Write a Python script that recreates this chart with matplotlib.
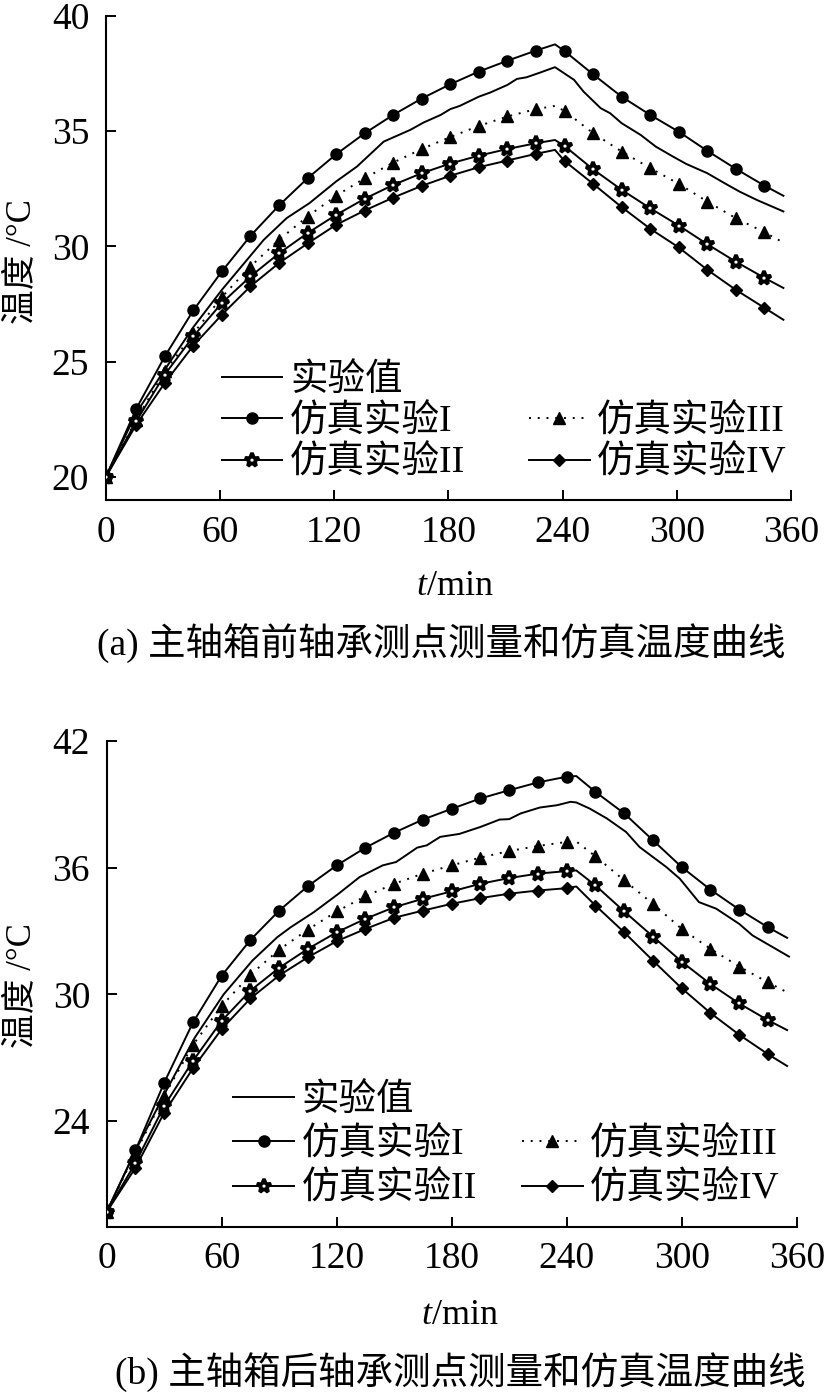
import matplotlib
matplotlib.use('Agg')
import matplotlib.pyplot as plt
from matplotlib.lines import Line2D

plt.rcParams['font.family'] = ['Liberation Serif', 'Noto Sans CJK SC', 'DejaVu Sans']
plt.rcParams['mathtext.fontset'] = 'custom'
plt.rcParams['mathtext.it'] = 'Liberation Serif:italic'
plt.rcParams['mathtext.rm'] = 'Liberation Serif'

# ---------------- data: (a) front bearing ----------------
t_exp_a = [0, 16, 31, 46, 61, 76, 83, 95, 107, 121, 132, 146, 160, 167, 176, 181, 186,
           196, 202, 211, 216, 221, 228, 236, 246, 251, 260, 265, 271, 281, 289, 298,
           305, 316, 325, 333, 342, 356]
v_exp_a = [20.0, 22.78, 24.66, 26.5, 28.12, 29.6, 30.29, 31.23, 31.88, 32.82, 33.47, 34.55,
           35.06, 35.38, 35.71, 35.96, 36.1, 36.5, 36.68, 37.01, 37.27, 37.34, 37.54, 37.78,
           37.23, 36.72, 36.0, 35.78, 35.35, 34.84, 34.33, 33.9, 33.58, 33.18, 32.75, 32.38,
           32.02, 31.52]

t_sim_a = [0, 16, 31, 46, 61, 76, 91, 106, 121, 136, 151, 166, 181, 196, 211, 226, 236,
           241, 256, 271, 286, 301, 316, 331, 346, 356]
sim1_a = [20.0, 22.96, 25.23, 27.23, 28.92, 30.46, 31.78, 32.96, 34.0, 34.91, 35.71, 36.42,
          37.04, 37.59, 38.06, 38.5, 38.77, 38.48, 37.47, 36.5, 35.71, 34.98, 34.15, 33.37,
          32.64, 32.2]
sim2_a = [20.0, 22.42, 24.44, 26.1, 27.55, 28.7, 29.7, 30.58, 31.37, 32.07, 32.67, 33.18,
          33.6, 33.94, 34.23, 34.48, 34.62, 34.36, 33.35, 32.46, 31.66, 30.91, 30.1, 29.34,
          28.64, 28.2]
sim3_a = [20.0, 22.49, 24.58, 26.22, 27.81, 29.13, 30.29, 31.3, 32.2, 32.96, 33.64, 34.23,
          34.75, 35.23, 35.64, 35.96, 36.1, 35.88, 34.92, 34.12, 33.4, 32.72, 31.95, 31.23,
          30.62, 30.17]
sim4_a = [20.0, 22.27, 24.08, 25.7, 27.04, 28.27, 29.28, 30.13, 30.94, 31.56, 32.12, 32.63,
          33.07, 33.44, 33.73, 34.02, 34.19, 33.71, 32.72, 31.71, 30.77, 29.96, 28.99, 28.12,
          27.34, 26.82]
marks_a = [i for i in range(len(t_sim_a)) if t_sim_a[i] not in (236, 356)]

# ---------------- data: (b) rear bearing ----------------
t_exp_b = [0, 15, 31, 46, 61, 76, 89, 96, 108, 121, 132, 144, 151, 162, 167, 174, 184,
           195, 205, 210, 216, 226, 235, 242, 245, 252, 261, 271, 278, 292, 299, 309, 318,
           330, 337, 356]
v_exp_b = [19.7, 22.6, 25.43, 27.96, 30.0, 31.6, 32.71, 33.18, 33.89, 34.77, 35.56, 36.11,
           36.27, 36.95, 37.06, 37.46, 37.6, 37.93, 38.28, 38.3, 38.57, 38.85, 38.96, 39.12,
           39.09, 38.8, 38.33, 37.69, 36.98, 36.03, 35.48, 34.37, 34.06, 33.34, 32.79, 31.79]

t_sim_b = [0, 15, 30, 45, 60, 75, 90, 105, 120, 135, 150, 165, 180, 195, 210, 225, 240,
           245, 255, 270, 285, 300, 315, 330, 345, 355]
sim1_b = [19.7, 22.61, 25.82, 28.67, 30.89, 32.58, 33.97, 35.13, 36.11, 36.95, 37.66, 38.28,
          38.79, 39.28, 39.67, 40.04, 40.31, 40.34, 39.59, 38.57, 37.3, 36.03, 34.96, 34.02,
          33.18, 32.68]
sim2_b = [19.7, 22.02, 24.72, 26.85, 28.75, 30.18, 31.26, 32.16, 32.94, 33.58, 34.13, 34.53,
          34.88, 35.24, 35.51, 35.72, 35.84, 35.87, 35.16, 33.93, 32.74, 31.55, 30.49, 29.57,
          28.78, 28.31]
sim3_b = [19.7, 22.5, 25.19, 27.61, 29.46, 30.93, 32.12, 33.07, 33.93, 34.65, 35.24, 35.72,
          36.11, 36.48, 36.79, 37.03, 37.22, 37.24, 36.54, 35.4, 34.29, 33.1, 32.16, 31.32,
          30.57, 30.1]
sim4_b = [19.7, 21.79, 24.4, 26.5, 28.36, 29.81, 30.9, 31.76, 32.52, 33.1, 33.63, 33.97,
          34.29, 34.56, 34.77, 34.92, 35.03, 35.11, 34.21, 32.94, 31.6, 30.29, 29.12, 28.09,
          27.17, 26.61]
marks_b = [i for i in range(len(t_sim_b)) if t_sim_b[i] not in (245, 355)]

labels = ['实验值', '仿真实验I', '仿真实验II', '', '仿真实验III', '仿真实验IV']
x_ticks = [0, 60, 120, 180, 240, 300, 360]
y_ticks_a = [20, 25, 30, 35, 40]
y_ticks_b = [24, 30, 36, 42]
captions = ['(a) 主轴箱前轴承测点测量和仿真温度曲线', '(b) 主轴箱后轴承测点测量和仿真温度曲线']

# ---------------- figure ----------------
W, H = 826, 1396
fig = plt.figure(figsize=(W / 100, H / 100), dpi=100)


def px_axes(l, t, r, b):
    return fig.add_axes([l / W, 1 - b / H, (r - l) / W, (b - t) / H])


LW = 1.4


def draw(ax, t_exp, v_exp, t_sim, s1, s2, s3, s4, marks, ylim, yticks, leg_xy, lspace, cspace):
    h0, = ax.plot(t_exp, v_exp, color='black', lw=LW, zorder=3)
    h1, = ax.plot(t_sim, s1, color='black', lw=LW, marker='o', ms=8, markevery=marks, zorder=4)
    h3, = ax.plot(t_sim, s3, color='black', lw=LW, ls=(0, (1, 3.5)), marker='^', ms=8.6,
                  markevery=marks, zorder=4)
    h2, = ax.plot(t_sim, s2, color='black', lw=LW, marker='*', ms=10.5, mfc='white',
                  mec='black', mew=2.6, markevery=marks, zorder=5)
    h4, = ax.plot(t_sim, s4, color='black', lw=LW, marker='D', ms=6.3, markevery=marks, zorder=4)
    blank = Line2D([], [], ls='none')
    ax.set_xlim(0, 360)
    ax.set_ylim(*ylim)
    ax.set_xticks(x_ticks)
    ax.set_yticks(yticks)
    for s in ('top', 'right'):
        ax.spines[s].set_visible(False)
    for s in ('left', 'bottom'):
        ax.spines[s].set_linewidth(1.5)
    ax.tick_params(axis='both', direction='in', length=7, width=1.4, labelsize=27)
    ax.tick_params(axis='x', pad=11)
    ax.tick_params(axis='y', pad=12)
    ax.legend([h0, h1, h2, blank, h3, h4], labels, ncol=2, loc='upper left',
              bbox_to_anchor=(leg_xy[0] / W, 1 - leg_xy[1] / H), bbox_transform=fig.transFigure,
              frameon=False, borderpad=0, borderaxespad=0, handlelength=1.62,
              handletextpad=0.2, columnspacing=cspace, labelspacing=lspace, numpoints=1,
              prop={'size': 27})


ax1 = px_axes(105.8, 16, 791, 500)
draw(ax1, t_exp_a, v_exp_a, t_sim_a, sim1_a, sim2_a, sim3_a, sim4_a, marks_a, (19, 40),
     y_ticks_a, (221.7, 363), 0.17, 1.7)
ax2 = px_axes(106.7, 741, 796.7, 1226.7)
draw(ax2, t_exp_b, v_exp_b, t_sim_b, sim1_b, sim2_b, sim3_b, sim4_b, marks_b, (19, 42),
     y_ticks_b, (233.3, 1083), 0.25, 1.2)

for yc in (262, 986):
    fig.text(22 / W, 1 - yc / H, '温度 /°C', rotation=90, ha='center', va='center', fontsize=25)
fig.text(455 / W, 1 - 586.7 / H, '$t$/min', ha='center', va='center', fontsize=26)
fig.text(460 / W, 1 - 1315 / H, '$t$/min', ha='center', va='center', fontsize=26)
fig.text(441 / W, 1 - 643 / H, captions[0], ha='center', va='center', fontsize=27)
fig.text(460 / W, 1 - 1371.7 / H, captions[1], ha='center', va='center', fontsize=27)

fig.savefig('out.png', dpi=100)
